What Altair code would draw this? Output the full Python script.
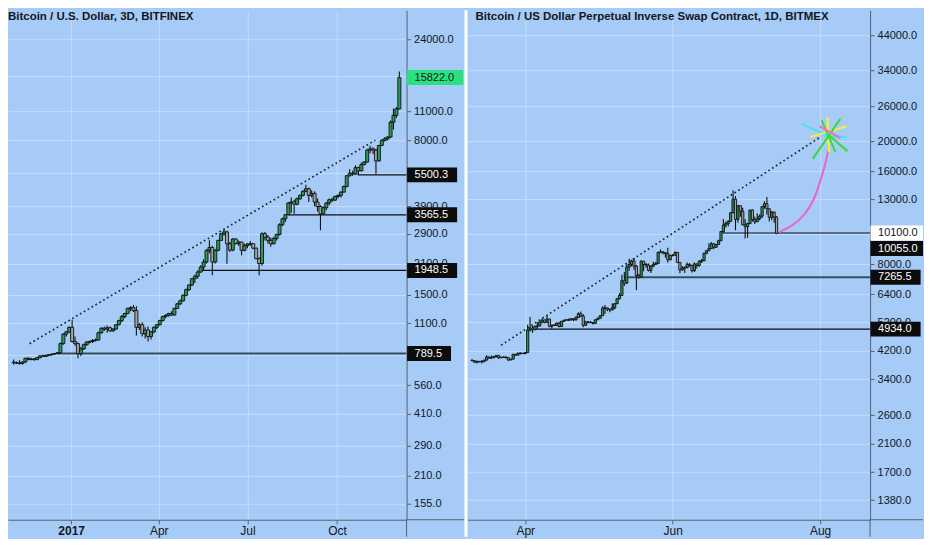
import altair as alt
import pandas as pd

# ---------------- colours / fonts ----------------
BG = "#A6CBF6"
GRID = "#C4DDFA"
AXC = "#56616F"
TXT = "#131722"
UP = "#2B9A5A"
DN = "#A4A4A4"
WICK = "#101010"
PINK = "#E866C8"
FONT = "Liberation Sans"

# ---------------- left panel data (BITFINEX, 3D candles) ----------------
l_title = "Bitcoin / U.S. Dollar, 3D, BITFINEX"
l_first = "2016-11-03"
l_open = [720, 715, 712, 710, 720, 750, 740, 745, 740, 755, 770, 765, 775, 780, 785, 790,
          797, 880, 975, 1000, 1050, 900, 880, 790, 830, 870, 895, 900, 910, 915,
          990, 1040, 1030, 1045, 1010, 1030, 1080, 1130, 1180, 1220,
          1290, 1300, 1260, 1050, 1080, 980, 1020, 950, 1000, 1050,
          1080, 1130, 1180, 1195, 1220, 1200, 1290, 1355, 1400, 1487,
          1580, 1663, 1781, 1830, 1915, 2022, 2135, 2424, 2500, 2135,
          2424, 2700, 2902, 2960, 2604, 2430, 2740, 2604, 2650, 2424,
          2550, 2600, 2604, 2480, 2213, 2100, 2902, 2800, 2700, 2604, 2760,
          2880, 3200, 3415, 3570, 4050, 4100, 4000, 4243, 4400, 4600,
          4730, 4400, 4500, 4094, 3900, 3600, 3850, 4050, 4200, 4180,
          4350, 4400, 4560, 4850, 5450, 5600, 5550, 5950, 5750, 6150,
          6318, 7200, 7300, 7195, 6400, 7573, 8000, 8136, 8300, 9750,
          10500, 11265]
l_high = [740, 725, 735, 725, 755, 760, 755, 750, 760, 775, 780, 780, 785, 790, 792, 800,
          890, 985, 1010, 1060, 1140, 950, 890, 850, 880, 905, 910, 925, 930, 1000,
          1050, 1060, 1070, 1060, 1040, 1090, 1140, 1200, 1230, 1300,
          1320, 1340, 1320, 1100, 1110, 1050, 1060, 1010, 1060, 1090,
          1140, 1190, 1210, 1230, 1250, 1300, 1370, 1420, 1500, 1600,
          1680, 1790, 1860, 1950, 2060, 2200, 2450, 2701, 2550, 2450,
          2720, 2920, 3021, 3000, 2650, 2760, 2760, 2700, 2660, 2600,
          2620, 2680, 2620, 2500, 2250, 2950, 2960, 2860, 2780, 2800, 2900,
          3250, 3450, 3580, 4100, 4300, 4200, 4300, 4450, 4650, 4939,
          4800, 4650, 4600, 4250, 3950, 3900, 4100, 4250, 4300, 4400,
          4450, 4600, 4900, 5500, 5850, 5750, 6100, 6000, 6300, 6400,
          7300, 7550, 7434, 7300, 7600, 8100, 8300, 8400, 9933, 11300,
          11500, 16900]
l_low = [700, 705, 700, 700, 715, 735, 735, 730, 735, 750, 760, 762, 768, 772, 778, 789.5,
         790, 870, 950, 990, 890, 860, 750, 770, 820, 860, 880, 885, 900, 910,
         980, 1010, 990, 1000, 1000, 1020, 1070, 1110, 1160, 1210,
         1250, 1240, 960, 1020, 950, 930, 900, 920, 985, 1030,
         1070, 1120, 1160, 1180, 1190, 1195, 1280, 1340, 1390, 1470,
         1560, 1640, 1700, 1780, 1900, 1948.5, 2100, 2350, 1847, 2100,
         2400, 2680, 2850, 2096, 2380, 2400, 2580, 2550, 2300, 2400,
         2480, 2550, 2450, 2200, 1847, 2050, 2700, 2600, 2520, 2580, 2700,
         2850, 3150, 3300, 3565, 3650, 3606, 3950, 4200, 4350, 4550,
         4100, 4300, 3900, 3700, 3011, 3570, 3750, 3950, 4100, 4150,
         4250, 4300, 4550, 4800, 5400, 5450, 5500, 5500, 5700, 6100,
         6300, 6950, 6900, 5566, 6350, 7500, 7900, 8000, 8200, 9000,
         10200, 11200]
l_close = [715, 712, 710, 720, 750, 740, 745, 740, 755, 770, 765, 775, 780, 785, 790, 797,
           880, 975, 1000, 1050, 900, 880, 790, 830, 870, 895, 900, 910, 915, 990,
           1040, 1030, 1045, 1010, 1030, 1080, 1130, 1180, 1220, 1290,
           1300, 1260, 1050, 1080, 980, 1020, 950, 1000, 1050, 1080,
           1130, 1180, 1195, 1220, 1200, 1290, 1355, 1400, 1487, 1580,
           1663, 1781, 1830, 1915, 2022, 2135, 2424, 2500, 2135, 2424,
           2700, 2902, 2960, 2604, 2430, 2740, 2604, 2650, 2424, 2550,
           2600, 2604, 2480, 2213, 2100, 2902, 2800, 2700, 2604, 2760, 2880,
           3200, 3415, 3570, 4050, 4100, 4000, 4243, 4400, 4600, 4730,
           4400, 4500, 4094, 3900, 3600, 3850, 4050, 4200, 4180, 4350,
           4400, 4560, 4850, 5450, 5600, 5550, 5950, 5750, 6150, 6318,
           7200, 7300, 7195, 6400, 7573, 8000, 8136, 8300, 9750, 10500,
           11265, 15822]
l_levels = [789.5, 1948.5, 3565.5, 5500.3]
l_level_from = ["2016-12-17T08:00:00", "2017-05-15T08:00:00", "2017-08-11T08:00:00", "2017-10-22T08:00:00"]
l_trend_t = ["2016-11-19T08:00:00", "2017-11-09T08:00:00"]
l_trend_p = [879, 8023]
l_yticks = [155, 210, 290, 410, 560, 780, 1100, 1500, 2100, 2900, 3900, 5600, 8000, 11000, 16000, 24000]
l_xticks = [(2017, 1, 1), (2017, 4, 1), (2017, 7, 1), (2017, 10, 1)]
l_last = 15822.0

# ---------------- right panel data (BITMEX, 1D candles) ----------------
r_title = "Bitcoin / US Dollar Perpetual Inverse Swap Contract, 1D, BITMEX"
r_first = "2019-03-10"
r_open = [3920, 3900, 3860, 3880, 3865, 3870, 3915, 4010, 3980, 3985, 4025, 4050, 3990, 4000, 4010, 3990, 3920, 3945, 4090, 4065, 4125, 4120,
          4110, 4145, 4900, 4975, 4910, 5040, 5050, 5200, 5280, 5190, 5320, 5040, 5080, 5075, 5160, 5030, 5230, 5270, 5290, 5280, 5330, 5290, 5380, 5530, 5440, 5080, 5200, 5200, 5180, 5150,
          5290, 5350, 5450, 5770, 5780, 5720, 5690, 5780, 5960, 6190, 6340, 7080, 6950, 7840, 7990, 8200, 7890, 7360, 7260, 8190, 7990, 7950, 7640, 7880, 7990, 8050, 8740, 8780, 8720, 8660, 8270,
          8550, 8560, 8740, 8110, 7670, 7780, 7800, 8000, 7930, 7630, 8020, 7930, 8180, 8230, 8690, 8850, 8990, 9320, 9080, 9270, 9530, 10210, 10720, 10830, 11010, 11750, 13000, 11180, 12370, 11880,
          10740, 10590, 10830, 11980, 11160, 10980, 11230, 11450, 12300, 12560, 12100, 11350, 11800, 11380]
r_high = [3930, 3915, 3900, 3890, 3920, 3930, 4060, 4015, 4050, 4035, 4060, 4075, 4010, 4020, 4015, 3995, 3960, 4100, 4095, 4140, 4150, 4130,
          4160, 5100, 5400, 5050, 5060, 5200, 5240, 5350, 5290, 5470, 5330, 5100, 5120, 5180, 5200, 5240, 5290, 5320, 5340, 5350, 5340, 5430, 5600, 5630, 5510, 5250, 5240, 5230, 5200, 5310,
          5370, 5470, 5850, 5900, 5790, 5740, 5980, 5990, 6200, 6450, 7400, 7550, 8000, 8330, 8280, 8380, 7950, 7450, 8250, 8200, 8080, 8050, 7950, 8150, 8150, 8800, 8950, 8800, 8760, 9050, 8580,
          8620, 8800, 8760, 8110, 7900, 7880, 8100, 8060, 7950, 8100, 8040, 8250, 8320, 8700, 8880, 9350, 9450, 9350, 9300, 9600, 10250, 11200, 11000, 11100, 11800, 13880, 13300, 12400, 12400, 12200,
          11200, 10900, 12000, 12050, 11400, 11700, 11600, 12350, 12800, 13200, 12100, 11900, 11850, 11450]
r_low = [3880, 3830, 3820, 3850, 3820, 3865, 3910, 3950, 3950, 3975, 3990, 3950, 3970, 3985, 3965, 3890, 3910, 3940, 4050, 4060, 4080, 4100,
         4090, 4140, 4850, 4800, 4900, 4950, 5040, 5150, 5150, 5180, 5000, 4950, 5050, 5050, 5000, 5030, 5210, 5260, 5240, 5270, 5230, 5260, 5370, 5400, 5000, 5050, 5150, 5160, 5110, 5140,
         5280, 5340, 5440, 5520, 5640, 5590, 5680, 5720, 5950, 6150, 6330, 6800, 6900, 7620, 7870, 7680, 6600, 7180, 7250, 7600, 7800, 7580, 7500, 7820, 7950, 8000, 8680, 8600, 8420, 8100, 8250,
         8480, 8540, 8070, 7480, 7620, 7500, 7770, 7850, 7530, 7550, 7750, 7850, 8080, 8170, 8620, 8850, 8990, 8950, 9050, 9230, 9520, 10100, 10520, 10600, 11000, 11700, 10300, 10900, 11400, 10700,
         9700, 9750, 10800, 11000, 10800, 10980, 11100, 11300, 12100, 11600, 11000, 11100, 10900, 10050]
r_close = [3900, 3860, 3880, 3865, 3870, 3915, 4010, 3980, 3985, 4025, 4050, 3990, 4000, 4010, 3990, 3920, 3945, 4090, 4065, 4125, 4120, 4110,
           4145, 4900, 4975, 4910, 5040, 5050, 5200, 5280, 5190, 5320, 5040, 5080, 5075, 5160, 5030, 5230, 5270, 5290, 5280, 5330, 5290, 5380, 5530, 5440, 5080, 5200, 5200, 5180, 5150, 5290,
           5350, 5450, 5770, 5780, 5720, 5690, 5780, 5960, 6190, 6340, 7080, 6950, 7840, 7990, 8200, 7890, 7360, 7260, 8190, 7990, 7950, 7640, 7880, 7990, 8050, 8740, 8780, 8720, 8660, 8270, 8550,
           8560, 8740, 8110, 7670, 7780, 7800, 8000, 7930, 7630, 8020, 7930, 8180, 8230, 8690, 8850, 8990, 9320, 9080, 9270, 9530, 10210, 10720, 10830, 11010, 11750, 13000, 11180, 12370, 11880, 10740,
           10590, 10830, 11980, 11160, 10980, 11230, 11450, 12300, 12560, 12100, 11350, 11800, 11380, 10055]
r_levels = [4934.0, 7265.5, 10100.0]
r_level_from = ["2019-04-04T07:00:00", "2019-05-12T05:00:00", "2019-06-21T14:00:00"]
r_trend_t = ["2019-03-22T00:00:00", "2019-08-01T00:00:00"]
r_trend_p = [4375, 20630]
r_yticks = [1380, 1700, 2100, 2600, 3400, 4200, 5200, 6400, 8000, 10000, 13000, 16000, 20000, 26000, 34000, 44000]
r_xticks = [(2019, 4, 1), (2019, 6, 1), (2019, 8, 1)]
r_last = 10055.0

# hand-drawn projection (days relative to 2019-08-01, price)
curve_days = [-16.89, -11.58, -6.23, -2.24, 0.40, 2.40, 3.35]
curve_price = [10170, 10630, 11520, 13030, 15120, 17130, 18680]
star_d1 = [-7.58, 1.76, 3.07, -4.23, 8.38, 0.68, 3.75, -0.24]
star_p1 = [22780, 20780, 23940, 20630, 23640, 23360, 20890, 22390]
star_d2 = [3.75, 11.06, 3.75, 11.06, -3.03, 6.39, 11.34, 8.38]
star_p2 = [20780, 20630, 18450, 22390, 17550, 18450, 18590, 20480]
star_col = ["#46E3F2", "#46E3F2", "#F2F23C", "#F2F23C", "#3BD83B", "#3BD83B", "#3BD83B", "#EE6CCB"]

H = 510
ONE = pd.DataFrame({"a": [0]})


def panel(title, first, freq, o, h, lo, c, xdom, ydom, yticks, xticks,
          levels, level_from, level_style, trend_t, trend_p, boxes,
          W, G, body, extra=None, separator=False):
    xs = alt.Scale(domain=[alt.DateTime(**xdom[0]), alt.DateTime(**xdom[1])], nice=False)
    ys = alt.Scale(type="log", domain=ydom, nice=False, zero=False)
    xax = alt.Axis(values=[alt.DateTime(year=a, month=b, date=d) for a, b, d in xticks],
                   labelExpr="month(datum.value) == 0 ? timeFormat(datum.value, '%Y') : timeFormat(datum.value, '%b')",
                   grid=True, gridColor=GRID, gridWidth=1, domainColor=AXC, tickColor=AXC,
                   tickSize=4, labelPadding=2, labelFont=FONT, labelFontSize=12, labelColor=TXT,
                   labelFontWeight={"condition": {"test": "month(datum.value) == 0", "value": "bold"}, "value": "normal"},
                   title=None, labelFlush=False, labelOverlap=False)
    yax = alt.Axis(orient="right", values=yticks, format=".1f", grid=True, gridColor=GRID, gridWidth=1,
                   domainColor=AXC, tickColor=AXC, tickSize=4, labelPadding=3, labelFont=FONT,
                   labelFontSize=11, labelColor=TXT, title=None, minExtent=G, maxExtent=G,
                   labelOverlap=False, labelFlush=False)

    def X(f):
        return alt.X(f, type="temporal", scale=xs, axis=xax)

    def Y(f):
        return alt.Y(f, type="quantitative", scale=ys, axis=yax)

    df = pd.DataFrame({"t": pd.date_range(first, periods=len(c), freq=freq),
                       "o": o, "h": h, "l": lo, "c": c})
    layers = []
    for p, t0, (col, sw) in zip(levels, level_from, level_style):
        d = pd.DataFrame({"t": [pd.Timestamp(t0)], "p": [p]})
        layers.append(alt.Chart(d).mark_rule(color=col, strokeWidth=sw, clip=True)
                      .encode(x=X("t"), x2=alt.value(W), y=Y("p")))
    tdf = pd.DataFrame({"t": pd.to_datetime(trend_t), "p": trend_p})
    layers.append(alt.Chart(tdf).mark_line(color="#1d2733", strokeWidth=1.7, strokeDash=[1.7, 2.8], clip=True)
                  .encode(x=X("t"), y=Y("p")))
    layers.append(alt.Chart(df).mark_rule(color=WICK, strokeWidth=1.1, clip=True)
                  .encode(x=X("t"), y=Y("l"), y2=alt.Y2("h")))
    layers.append(alt.Chart(df).mark_bar(size=body, stroke=WICK, strokeWidth=0.9, clip=True)
                  .encode(x=X("t"), y=Y("o"), y2=alt.Y2("c"),
                          color=alt.condition("datum.c >= datum.o", alt.value(UP), alt.value(DN))))
    if extra is not None:
        layers += extra(X, Y)
    # price label boxes in the right-hand scale
    for p, lab, fill, tcol, dy in boxes:
        d = pd.DataFrame({"p": [p], "lab": [lab]})
        bw = min(G, 14 + 6.1 * len(lab))
        layers.append(alt.Chart(d).mark_rect(fill=fill, yOffset=-7.5 + dy, y2Offset=7.5 + dy)
                      .encode(x=alt.value(W + 0.5), x2=alt.value(W + bw), y=Y("p"), y2=alt.Y2("p")))
        layers.append(alt.Chart(d).mark_text(align="left", baseline="middle", font=FONT, fontSize=11,
                                             color=tcol, dy=dy)
                      .encode(x=alt.value(W + 8), y=Y("p"), text="lab:N"))
    # pane borders continuing into the gutters
    layers.append(alt.Chart(ONE).mark_rule(color=AXC, strokeWidth=1)
                  .encode(x=alt.value(W), x2=alt.value(W + G), y=alt.value(H)))
    layers.append(alt.Chart(ONE).mark_rule(color=AXC, strokeWidth=1)
                  .encode(x=alt.value(W), y=alt.value(H), y2=alt.value(H + 17)))
    if separator:
        layers.append(alt.Chart(ONE).mark_rule(color="white", strokeWidth=3)
                      .encode(x=alt.value(W + G + 1.5), y=alt.value(0), y2=alt.value(H + 17)))
    layers.append(alt.Chart(pd.DataFrame({"s": [title]}))
                  .mark_text(align="left", baseline="middle", font=FONT, fontWeight="bold",
                             fontSize=11.5, color=TXT)
                  .encode(x=alt.value(0 if separator else 8), y=alt.value(7), text="s:N"))
    return alt.layer(*layers).properties(width=W, height=H)


def fmt(v):
    return f"{v:.1f}"


def right_extra(X, Y):
    base = pd.Timestamp("2019-08-01")
    cdf = pd.DataFrame({"t": base + pd.to_timedelta(curve_days, unit="D"), "p": curve_price})
    sdf = pd.DataFrame({"t": base + pd.to_timedelta(star_d1, unit="D"), "p": star_p1,
                        "t2": base + pd.to_timedelta(star_d2, unit="D"), "p2": star_p2,
                        "col": star_col})
    return [
        alt.Chart(cdf).mark_line(color=PINK, strokeWidth=2, interpolate="basis", clip=True)
        .encode(x=X("t"), y=Y("p")),
        alt.Chart(sdf).mark_rule(strokeWidth=2, clip=True)
        .encode(x=X("t"), x2=alt.X2("t2"), y=Y("p"), y2=alt.Y2("p2"),
                color=alt.Color("col:N", scale=None)),
    ]


left = panel(
    l_title, l_first, "3D", l_open, l_high, l_low, l_close,
    [dict(year=2016, month=11, date=2, hours=7), dict(year=2017, month=12, date=6, hours=7)],
    [129.9, 32870], l_yticks, l_xticks,
    l_levels, l_level_from, [("#34505F", 2), ("#111111", 1.2), ("#111111", 1.2), ("#111111", 1.2)],
    l_trend_t, l_trend_p,
    [(l_last, fmt(l_last), "#2BE07F", TXT, 0)] +
    [(p, fmt(p), "#0C0C0C", "white", 0) for p in l_levels],
    W=399, G=58, body=3.0, separator=True)

right = panel(
    r_title, r_first, "D", r_open, r_high, r_low, r_close,
    [dict(year=2019, month=3, date=10, hours=4), dict(year=2019, month=8, date=19, hours=15)],
    [1192, 53100], r_yticks, r_xticks,
    r_levels, r_level_from, [("#111111", 1.2), ("#34505F", 2), ("#111111", 1.2)],
    r_trend_t, r_trend_p,
    [(10100.0, fmt(10100.0), "white", TXT, 0), (r_last, fmt(r_last), "#0C0C0C", "white", 15),
     (7265.5, fmt(7265.5), "#0C0C0C", "white", 0), (4934.0, fmt(4934.0), "#0C0C0C", "white", 0)],
    W=403, G=53, body=2.2, extra=right_extra)

chart = (alt.hconcat(left, right, spacing=0)
         .configure(background=BG, padding=0)
         .configure_view(stroke=None))

chart.save("out.html", embed_options={"renderer": "svg", "actions": False})
